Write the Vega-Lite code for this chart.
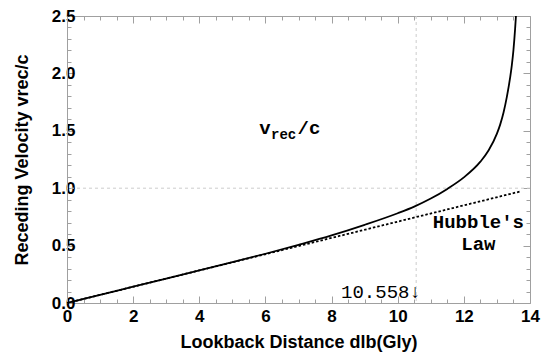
{
  "$schema": "https://vega.github.io/schema/vega-lite/v6.json",
  "width": 463,
  "height": 287,
  "autosize": "none",
  "padding": {"left": 67, "top": 16, "right": 15, "bottom": 55},
  "background": "white",
  "config": {
    "view": {"stroke": null},
    "axis": {
      "domainColor": "#a0a0a0",
      "tickColor": "#a0a0a0",
      "tickWidth": 1,
      "grid": false,
      "labelFont": "Liberation Sans",
      "labelFontWeight": "bold",
      "labelFontSize": 17,
      "labelColor": "black",
      "labelFlush": false,
      "labelOverlap": false,
      "labelBound": false,
      "titleFont": "Liberation Sans",
      "titleFontWeight": "bold",
      "titleFontSize": 18,
      "titleColor": "black"
    }
  },
  "datasets": {
    "curve": [
      {"d": 0, "v": 0},
      {"d": 1, "v": 0.0709},
      {"d": 2, "v": 0.1418},
      {"d": 3, "v": 0.2127},
      {"d": 4, "v": 0.2836},
      {"d": 5, "v": 0.3555},
      {"d": 6, "v": 0.429},
      {"d": 7, "v": 0.507},
      {"d": 8, "v": 0.589},
      {"d": 9, "v": 0.681},
      {"d": 10, "v": 0.782},
      {"d": 10.5, "v": 0.84},
      {"d": 11, "v": 0.91},
      {"d": 11.5, "v": 0.994},
      {"d": 12, "v": 1.094},
      {"d": 12.5, "v": 1.231},
      {"d": 12.75, "v": 1.33},
      {"d": 13.0, "v": 1.475},
      {"d": 13.1, "v": 1.556},
      {"d": 13.2, "v": 1.659},
      {"d": 13.3, "v": 1.795},
      {"d": 13.4, "v": 1.965},
      {"d": 13.45, "v": 2.07},
      {"d": 13.5, "v": 2.205},
      {"d": 13.55, "v": 2.39},
      {"d": 13.575, "v": 2.5}
    ],
    "hubble": [
      {"d": 0, "v": 0},
      {"d": 13.7, "v": 0.971}
    ],
    "vgrid": [{"d": 10.558}],
    "hgrid": [{"v": 1.0}],
    "labels": [
      {"d": 12.44, "v": 0.653, "text": "Hubble's"},
      {"d": 12.44, "v": 0.462, "text": "Law"}
    ],
    "mark1": [{"d": 10.7, "v": 0.044, "text": "10.558↓"}],
    "vlab": [{"d": 5.81, "v": 1.472, "text": "v"}],
    "rlab": [{"d": 6.17, "v": 1.429, "text": "rec"}],
    "clab": [{"d": 6.97, "v": 1.472, "text": "/c"}]
  },
  "layer": [
    {
      "data": {"name": "vgrid"},
      "mark": {"type": "rule", "color": "#cccccc", "strokeDash": [3, 3], "strokeWidth": 1},
      "encoding": {
        "x": {"field": "d", "type": "quantitative", "scale": {"domain": [0, 14], "nice": false}, "axis": null}
      }
    },
    {
      "data": {"name": "hgrid"},
      "mark": {"type": "rule", "color": "#cccccc", "strokeDash": [3, 3], "strokeWidth": 1},
      "encoding": {
        "y": {"field": "v", "type": "quantitative", "scale": {"domain": [0, 2.5], "nice": false}, "axis": null}
      }
    },
    {
      "data": {"name": "curve"},
      "mark": {"type": "line", "color": "black", "strokeWidth": 1.8, "interpolate": "monotone", "clip": true},
      "encoding": {
        "x": {
          "field": "d", "type": "quantitative",
          "scale": {"domain": [0, 14], "nice": false},
          "axis": {
            "orient": "bottom",
            "values": [0,0.5,1,1.5,2,2.5,3,3.5,4,4.5,5,5.5,6,6.5,7,7.5,8,8.5,9,9.5,10,10.5,11,11.5,12,12.5,13,13.5,14],
            "labelExpr": "datum.value % 2 === 0 ? format(datum.value, 'd') : ''",
            "tickSize": {"condition": {"test": "datum.value % 2 === 0", "value": -7}, "value": -4},
            "labelPadding": 12,
            "title": "Lookback Distance dlb(Gly)",
            "titlePadding": 6
          }
        },
        "y": {
          "field": "v", "type": "quantitative",
          "scale": {"domain": [0, 2.5], "nice": false},
          "axis": {
            "orient": "left",
            "values": [0,0.1,0.2,0.3,0.4,0.5,0.6,0.7,0.8,0.9,1,1.1,1.2,1.3,1.4,1.5,1.6,1.7,1.8,1.9,2,2.1,2.2,2.3,2.4,2.5],
            "labelExpr": "round(datum.value * 10) % 5 === 0 ? format(datum.value, '.1f') : ''",
            "tickSize": {"condition": {"test": "round(datum.value * 10) % 5 === 0", "value": -7}, "value": -4},
            "labelPadding": -1,
            "title": "Receding Velocity vrec/c",
            "titlePadding": 20
          }
        }
      }
    },
    {
      "data": {"name": "hubble"},
      "mark": {"type": "line", "color": "black", "strokeWidth": 1.8, "strokeDash": [2.5, 2]},
      "encoding": {
        "x": {
          "field": "d", "type": "quantitative",
          "scale": {"domain": [0, 14], "nice": false},
          "axis": {
            "orient": "top",
            "values": [0,0.5,1,1.5,2,2.5,3,3.5,4,4.5,5,5.5,6,6.5,7,7.5,8,8.5,9,9.5,10,10.5,11,11.5,12,12.5,13,13.5,14],
            "labels": false,
            "title": null,
            "tickSize": {"condition": {"test": "datum.value % 2 === 0", "value": -7}, "value": -4}
          }
        },
        "y": {
          "field": "v", "type": "quantitative",
          "scale": {"domain": [0, 2.5], "nice": false},
          "axis": {
            "orient": "right",
            "values": [0,0.1,0.2,0.3,0.4,0.5,0.6,0.7,0.8,0.9,1,1.1,1.2,1.3,1.4,1.5,1.6,1.7,1.8,1.9,2,2.1,2.2,2.3,2.4,2.5],
            "labels": false,
            "title": null,
            "tickSize": {"condition": {"test": "round(datum.value * 10) % 5 === 0", "value": -7}, "value": -4}
          }
        }
      }
    },
    {
      "data": {"name": "labels"},
      "mark": {"type": "text", "font": "Liberation Mono", "fontSize": 19, "fontWeight": "bold", "align": "center", "baseline": "alphabetic", "color": "black"},
      "encoding": {
        "x": {"field": "d", "type": "quantitative", "axis": null},
        "y": {"field": "v", "type": "quantitative", "axis": null},
        "text": {"field": "text"}
      }
    },
    {
      "data": {"name": "mark1"},
      "mark": {"type": "text", "font": "Liberation Mono", "fontSize": 19, "align": "right", "baseline": "alphabetic", "color": "black"},
      "encoding": {
        "x": {"field": "d", "type": "quantitative", "axis": null},
        "y": {"field": "v", "type": "quantitative", "axis": null},
        "text": {"field": "text"}
      }
    },
    {
      "data": {"name": "vlab"},
      "mark": {"type": "text", "font": "Liberation Mono", "fontSize": 19, "fontWeight": "bold", "align": "left", "baseline": "alphabetic", "color": "black"},
      "encoding": {
        "x": {"field": "d", "type": "quantitative", "axis": null},
        "y": {"field": "v", "type": "quantitative", "axis": null},
        "text": {"field": "text"}
      }
    },
    {
      "data": {"name": "rlab"},
      "mark": {"type": "text", "font": "Liberation Mono", "fontSize": 14, "fontWeight": "bold", "align": "left", "baseline": "alphabetic", "color": "black"},
      "encoding": {
        "x": {"field": "d", "type": "quantitative", "axis": null},
        "y": {"field": "v", "type": "quantitative", "axis": null},
        "text": {"field": "text"}
      }
    },
    {
      "data": {"name": "clab"},
      "mark": {"type": "text", "font": "Liberation Mono", "fontSize": 19, "fontWeight": "bold", "align": "left", "baseline": "alphabetic", "color": "black"},
      "encoding": {
        "x": {"field": "d", "type": "quantitative", "axis": null},
        "y": {"field": "v", "type": "quantitative", "axis": null},
        "text": {"field": "text"}
      }
    }
  ],
  "resolve": {"axis": {"x": "independent", "y": "independent"}}
}
